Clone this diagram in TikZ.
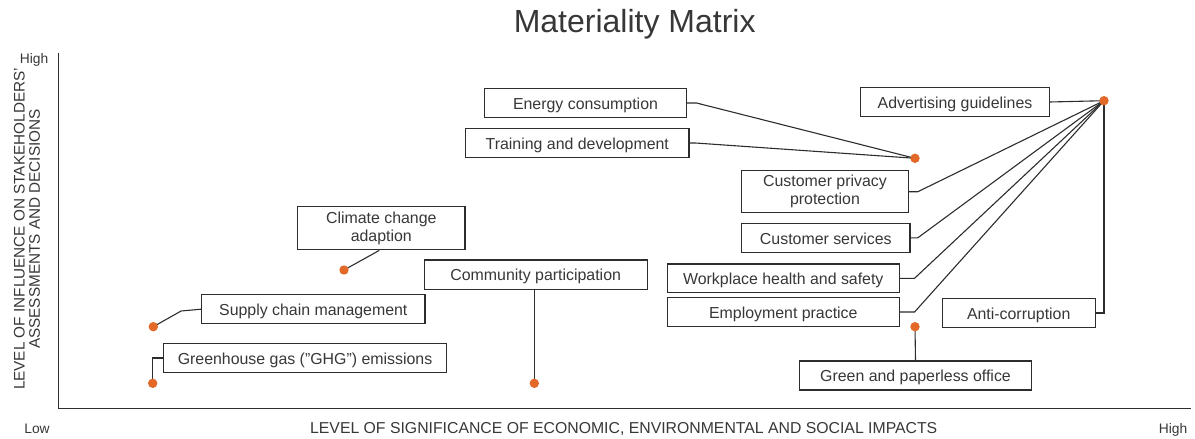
\documentclass[tikz,border=0pt]{standalone}
\usepackage{fontspec}
\setmainfont{Liberation Sans}
\begin{document}
\definecolor{inkgray}{RGB}{55,55,55}
\definecolor{linegray}{RGB}{45,45,45}
\definecolor{dotorange}{RGB}{226,105,40}
\begin{tikzpicture}[x=1pt,y=-1pt,
  every node/.style={text=inkgray},
  issuebase/.style={draw=linegray,line width=1.1pt,inner sep=0pt,align=center,
    font=\fontsize{15.9}{18.3}\selectfont},
  issue/.style={issuebase,minimum height=29.4pt,text height=12.4pt,text depth=0pt},
  tallissue/.style={issuebase,minimum height=42.8pt},
  leader/.style={draw=linegray,line width=1.1pt},
  dot/.style={circle,fill=dotorange,inner sep=0pt,minimum size=9.4pt},
  axislab/.style={font=\fontsize{15.8}{15.2}\selectfont,align=center},
  endlab/.style={font=\fontsize{13.8}{16}\selectfont,anchor=base}]
\useasboundingbox (0,0) rectangle (1195,439);

% title
\node[anchor=base,font=\fontsize{32}{36}\selectfont] (title) at (634.7,32) {Materiality Matrix};

% axes
\coordinate (origin) at (58.3,408.3);
\coordinate (ytop) at (58.3,53);
\coordinate (xend) at (1191,408.3);
\draw[linegray,line width=1.2pt] (ytop) -- (origin) -- (xend);

% axis labels
\node[endlab] (yhigh) at (34,63) {High};
\node[endlab] (xlow) at (37,433) {Low};
\node[endlab] (xhigh) at (1173,433) {High};
\node[axislab,anchor=base] (xlabel) at (623.7,433.3)
  {LEVEL OF SIGNIFICANCE OF ECONOMIC, ENVIRONMENTAL AND SOCIAL IMPACTS};
\node[axislab,font=\fontsize{15.3}{15.2}\selectfont,rotate=90] (ylabel) at (27,229)
  {LEVEL OF INFLUENCE ON STAKEHOLDERS’\\ASSESSMENTS AND DECISIONS};

% issue boxes
\node[issue,minimum width=202pt] (energy) at (585.5,103) {Energy consumption};
\node[issue,minimum width=223.3pt] (training) at (577.3,143) {Training and development};
\node[issue,minimum width=188.6pt] (advert) at (955,102) {Advertising guidelines};
\node[tallissue,minimum width=166.6pt,minimum height=42.3pt] (privacy) at (825,191.7) {Customer privacy\\protection};
\node[issue,minimum width=168.3pt,minimum height=29pt] (services) at (825.8,237.8) {Customer services};
\node[issue,minimum width=232pt,minimum height=28.7pt] (workplace) at (783.3,278.3) {Workplace health and safety};
\node[issue,minimum width=232pt] (employment) at (783.3,312) {Employment practice};
\node[issue,minimum width=152.7pt] (anticorr) at (1018.7,313) {Anti-corruption};
\node[issue,minimum width=232.4pt,minimum height=29pt] (green) at (915.5,375.5) {Green and paperless office};
\node[tallissue,minimum width=167.3pt,minimum height=43.3pt] (climate) at (381.3,228.2) {Climate change\\adaption};
\node[issue,minimum width=223.3pt] (community) at (535.7,274.7) {Community participation};
\node[issue,minimum width=223.3pt] (supply) at (313.3,309.2) {Supply chain management};
\node[issue,minimum width=283.4pt] (ghg) at (305,358) {Greenhouse gas (”GHG”) emissions};

% rating points
\coordinate (ghgpt) at (152.7,383.3);
\coordinate (supplypt) at (153.3,326.7);
\coordinate (climatept) at (344,270);
\coordinate (communitypt) at (534.3,383.3);
\coordinate (midpt) at (915,158.3);
\coordinate (adpt) at (1104,100.7);
\coordinate (greenpt) at (915,326.7);

% leader lines
\draw[leader] (energy.east) -- ++(9.5,0) -- (midpt);
\draw[leader] (training.east) -- ++(6,0) -- (midpt);
\draw[leader] (advert.east) -- (adpt);
\draw[leader] (privacy.east) -- ++(9,0) -- (adpt);
\draw[leader] (services.east) -- ++(7.3,0) -- (adpt);
\draw[leader] (workplace.east) -- ++(14.7,0) -- (adpt);
\draw[leader] (employment.east) -- ++(14.7,0) -- (adpt);
\draw[leader] (anticorr.east) -- (adpt |- anticorr.east) -- (adpt);
\draw[leader] (greenpt) -- (green.north);
\draw[leader] (communitypt |- community.south) -- (communitypt);
\draw[leader] ([xshift=-2pt]climate.south) -- (climatept);
\draw[leader] (supply.west) -- ++(-20,1.8) -- (supplypt);
\draw[leader] (ghg.west) -- (ghgpt |- ghg.west) -- (ghgpt);

% dots on top
\foreach \p in {ghgpt,supplypt,climatept,communitypt,midpt,adpt,greenpt}
  \node[dot] (dot-\p) at (\p) {};
\end{tikzpicture}
\end{document}
